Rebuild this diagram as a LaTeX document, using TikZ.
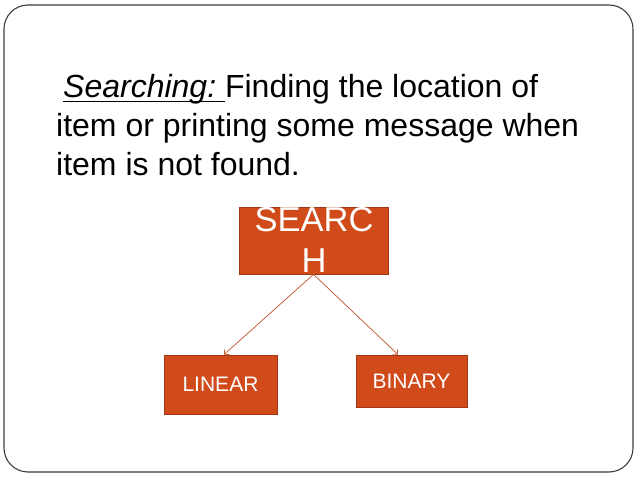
\documentclass[tikz,border=0pt]{standalone}
\usepackage{fontspec}
\setmainfont{Liberation Sans}
\usetikzlibrary{arrows.meta}
\definecolor{boxfill}{RGB}{209,74,26}
\definecolor{boxedge}{RGB}{160,55,22}
\definecolor{linkcol}{RGB}{192,82,44}
\definecolor{framecol}{RGB}{60,60,60}
% underline drawn a little below the baseline, crossing descenders
\newcommand\myunderline[1]{\setbox0\hbox{#1}\rlap{\rule[-5pt]{\wd0}{1.3pt}}\box0}
\tikzset{
  blockbox/.style={draw=boxedge, line width=0.8pt, fill=boxfill, text=white,
    inner sep=0pt, font=\fontsize{21}{25}\selectfont},
  link/.style={draw=linkcol, line width=0.7pt, -{Straight Barb[length=3.5pt,width=7pt]}},
}
\begin{document}
\begin{tikzpicture}[x=1pt,y=-1pt]
  \useasboundingbox (0,0) rectangle (638,479);
  % slide frame
  \draw[framecol, line width=1.1pt, rounded corners=24pt] (4,5) rectangle (633,472);
  % definition text (anchored at the baseline of its last line)
  \node[anchor=base west, inner sep=0pt, align=left,
        font=\fontsize{32}{39}\selectfont] (def) at (56,175)
    {\hspace*{7pt}\myunderline{\itshape Searching:\ }Finding the location of\\
     item or printing some message when\\
     item is not found.};
  % tree of boxes
  \node[blockbox, minimum width=149pt, minimum height=67pt] (search) at (313.5,240.5) {};
  \node[anchor=base, inner sep=0pt, text=white, align=center,
        font=\fontsize{34.5}{41}\selectfont] (searchtext) at (314,272) {SEARC\\H};
  \node[blockbox, minimum width=113pt, minimum height=59pt] (linear) at (220.5,384.5) {LINEAR};
  \node[blockbox, minimum width=111pt, minimum height=52pt] (binary) at (411.5,381) {BINARY};
  \draw[link] (search.south) -- ([xshift=3.5pt]linear.north);
  \draw[link] (search.south) -- ([xshift=-13.5pt]binary.north);
\end{tikzpicture}
\end{document}
